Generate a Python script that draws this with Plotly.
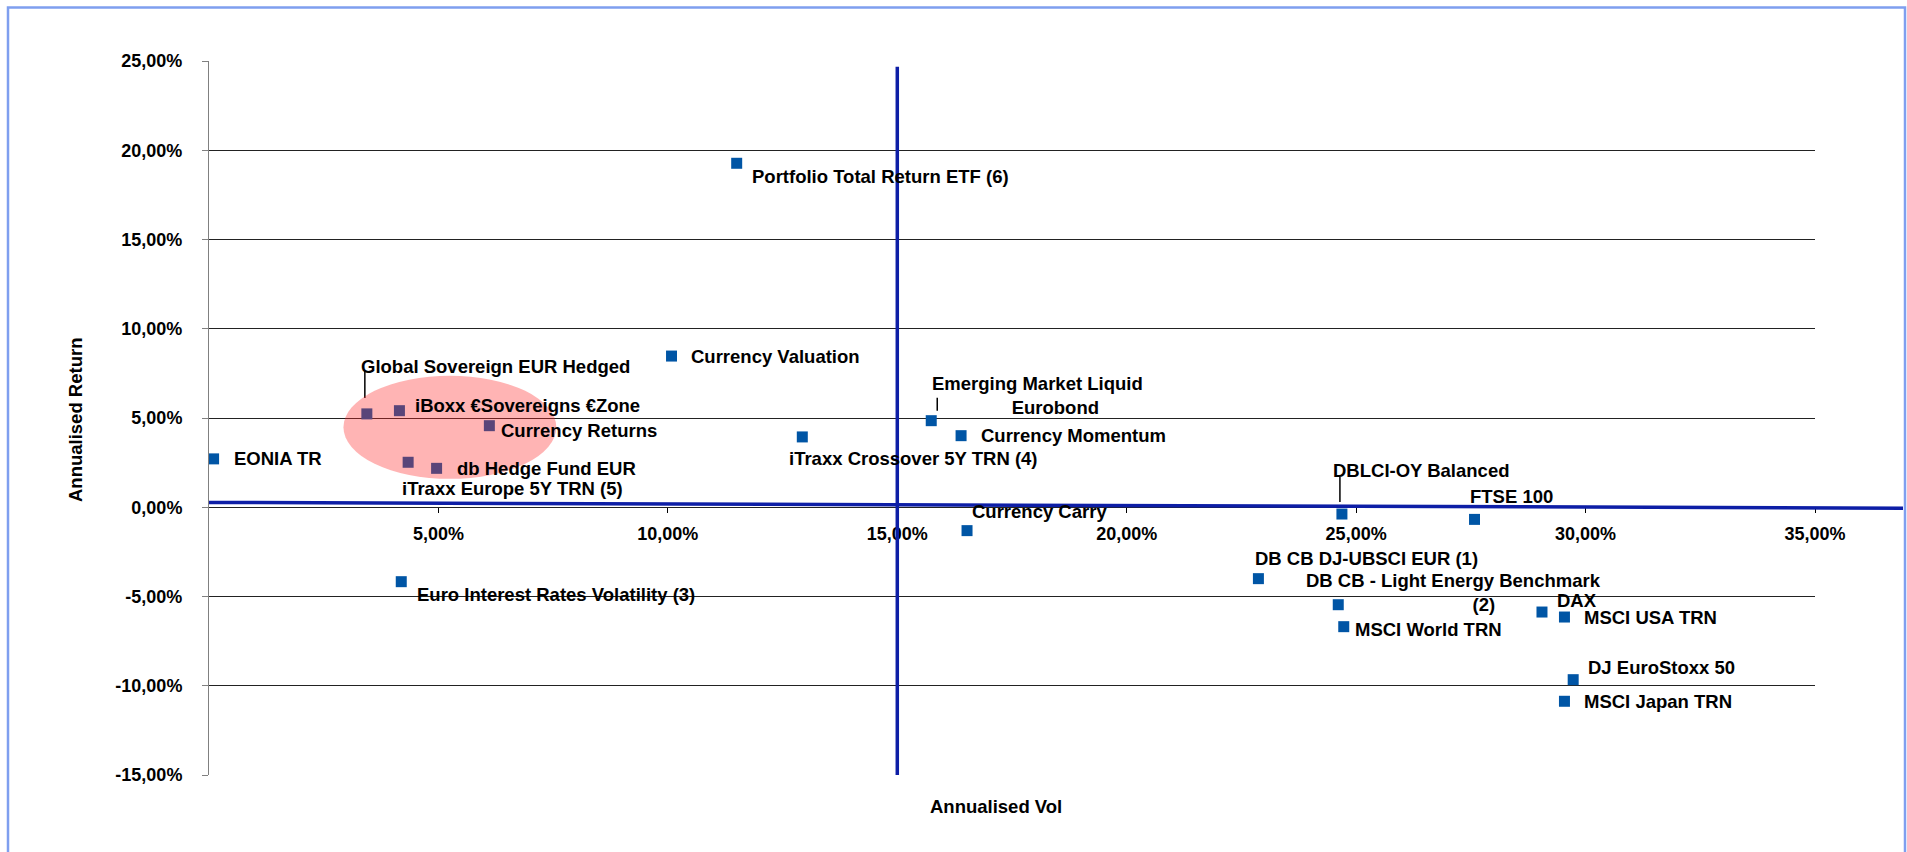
import plotly.graph_objects as go

# Annualised volatility / return (in %)
names = [
    "EONIA TR",
    "Global Sovereign EUR Hedged",
    "iBoxx €Sovereigns €Zone",
    "Currency Returns",
    "iTraxx Europe 5Y TRN (5)",
    "db Hedge Fund EUR",
    "Euro Interest Rates Volatility (3)",
    "Portfolio Total Return ETF (6)",
    "Currency Valuation",
    "iTraxx Crossover 5Y TRN (4)",
    "Emerging Market Liquid Eurobond",
    "Currency Momentum",
    "Currency Carry",
    "DBLCI-OY Balanced",
    "FTSE 100",
    "DB CB DJ-UBSCI EUR (1)",
    "DB CB - Light Energy Benchmark (2)",
    "MSCI World TRN",
    "DAX",
    "MSCI USA TRN",
    "DJ EuroStoxx 50",
    "MSCI Japan TRN",
]
vol = [0.10, 3.44, 4.15, 6.11, 4.34, 4.96, 4.19, 11.50, 10.08, 12.93, 15.74,
       16.39, 16.52, 24.69, 27.58, 22.87, 24.61, 24.73, 29.05, 29.54, 29.73, 29.54]
ret = [2.71, 5.23, 5.41, 4.57, 2.52, 2.18, -4.17, 19.27, 8.47, 3.94, 4.85,
       4.01, -1.31, -0.38, -0.68, -4.00, -5.46, -6.69, -5.87, -6.15, -9.66, -10.87]

x_tick_vals = [5, 10, 15, 20, 25, 30, 35]
x_tick_labels = ["5,00%", "10,00%", "15,00%", "20,00%", "25,00%", "30,00%", "35,00%"]
y_tick_vals = [-15, -10, -5, 0, 5, 10, 15, 20, 25]
y_tick_labels = ["-15,00%", "-10,00%", "-5,00%", "0,00%", "5,00%",
                 "10,00%", "15,00%", "20,00%", "25,00%"]

# quadrant split lines
vol_split = 15
ret_split_start, ret_split_end = 0.27, -0.05
vol_split_top = 24.68

# highlighted cluster (ellipse)
cluster_vol = (2.93, 7.57)
cluster_ret = (1.59, 7.37)

# wrapped labels as Excel shows them (second line pushed right with nbsp)
wrapped = {
    10: "Emerging Market Liquid<br>" + "&nbsp;" * 7 + "Eurobond",
    16: "DB CB - Light Energy Benchmark<br>" + "&nbsp;" * 12 + "(2)",
}

# label placement in px: (left edge of text, vertical centre) relative to the marker, y down
label_offsets = [
    (20, 0), (-6, -47), (16, -5), (12, 5), (-6, 26), (20, 0), (16, 13),
    (15, 13), (19, 0), (-13, 22), (1, -25), (20, 0), (5, -19), (-9, -44),
    (-5, -23), (-3, -20), (-32, -12), (11, 3), (15, -12), (20, 0), (15, -12), (20, 0),
]
# leader lines: (point index, dx, dy from, dy to) px, y down
leaders = [(1, -2, -16, -43), (10, 6, -10, -23), (13, -2, -12, -37)]

W, H = 1907, 852
L, R, T, B = 209, 92, 61, 77
PW, PH = W - L - R, H - T - B


def px_x(px):
    return (px - L) / PW


def px_y(py):
    return (H - B - py) / PH


FONT = dict(family="Arial, Liberation Sans, sans-serif", size=18.5, color="black", weight="bold")
TICKFONT = dict(FONT, size=18)
BLUE = "#0055a5"
NAVY = "#0d1ea6"

fig = go.Figure()
fig.add_trace(go.Scatter(
    x=vol, y=ret, mode="markers", cliponaxis=False,
    marker=dict(symbol="square", size=11, color=BLUE, line=dict(width=0)),
    text=names, hoverinfo="text", showlegend=False,
))

for i, (name, x, y, (dx, dy)) in enumerate(zip(names, vol, ret, label_offsets)):
    fig.add_annotation(
        x=x, y=y, xref="x", yref="y", text=wrapped.get(i, name), showarrow=False,
        xanchor="left", yanchor="middle", align="center",
        xshift=dx - 2, yshift=-dy, font=FONT,
    )

shapes = []
for i, dx, d0, d1 in leaders:
    shapes.append(dict(
        type="line", xref="x", yref="y", xsizemode="pixel", ysizemode="pixel",
        xanchor=vol[i], yanchor=ret[i], x0=dx, x1=dx, y0=-d0, y1=-d1,
        line=dict(color="black", width=1.5),
    ))

# pink highlight over the low-vol cluster
shapes.append(dict(
    type="circle", xref="x", yref="y", layer="above",
    x0=cluster_vol[0], x1=cluster_vol[1], y0=cluster_ret[0], y1=cluster_ret[1],
    fillcolor="rgb(255,40,40)", opacity=0.35, line=dict(width=0),
))
# quadrant lines
shapes.append(dict(
    type="line", xref="x", yref="y", layer="above",
    x0=vol_split, x1=vol_split, y0=-15, y1=vol_split_top,
    line=dict(color=NAVY, width=3.5),
))
shapes.append(dict(
    type="line", xref="paper", yref="y", layer="above",
    x0=0, x1=px_x(1903), y0=ret_split_start, y1=ret_split_end,
    line=dict(color=NAVY, width=3.5),
))
# chart frame
shapes.append(dict(
    type="rect", xref="paper", yref="paper", layer="below",
    x0=px_x(8), x1=px_x(1905), y0=px_y(880), y1=px_y(7.5),
    line=dict(color="#7f9fef", width=2.5), fillcolor="rgba(0,0,0,0)",
))

fig.add_annotation(
    x=px_x(996), y=px_y(806), xref="paper", yref="paper", text="Annualised Vol",
    showarrow=False, xanchor="center", yanchor="middle", font=FONT,
)
fig.add_annotation(
    x=px_x(75), y=px_y(420), xref="paper", yref="paper", text="Annualised Return",
    showarrow=False, xanchor="center", yanchor="middle", textangle=-90, font=FONT,
)

fig.update_layout(
    width=W, height=H, margin=dict(l=L, r=R, t=T, b=B, autoexpand=False),
    paper_bgcolor="white", plot_bgcolor="white",
    font=FONT, shapes=shapes,
    xaxis=dict(
        range=[0, 35], anchor="free", position=15 / 40, automargin=False,
        tickvals=x_tick_vals, ticktext=x_tick_labels,
        showgrid=False, zeroline=False, showline=False,
        ticks="outside", ticklen=5, tickcolor="black", ticklabelstandoff=5,
        tickfont=TICKFONT,
    ),
    yaxis=dict(
        range=[-15, 25], tickvals=y_tick_vals, ticktext=y_tick_labels, automargin=False,
        showgrid=True, gridcolor="#222222", gridwidth=1, zeroline=False,
        showline=True, linecolor="#808080", linewidth=1,
        ticks="outside", ticklen=6, tickcolor="#808080", ticklabelstandoff=16,
        tickfont=TICKFONT,
    ),
)

# the page body has an 8px default margin; drop it so the figure sits at the window origin
fig.write_html(
    "out.html",
    config={"displayModeBar": False},
    post_script="document.body.style.margin = '0';",
)
